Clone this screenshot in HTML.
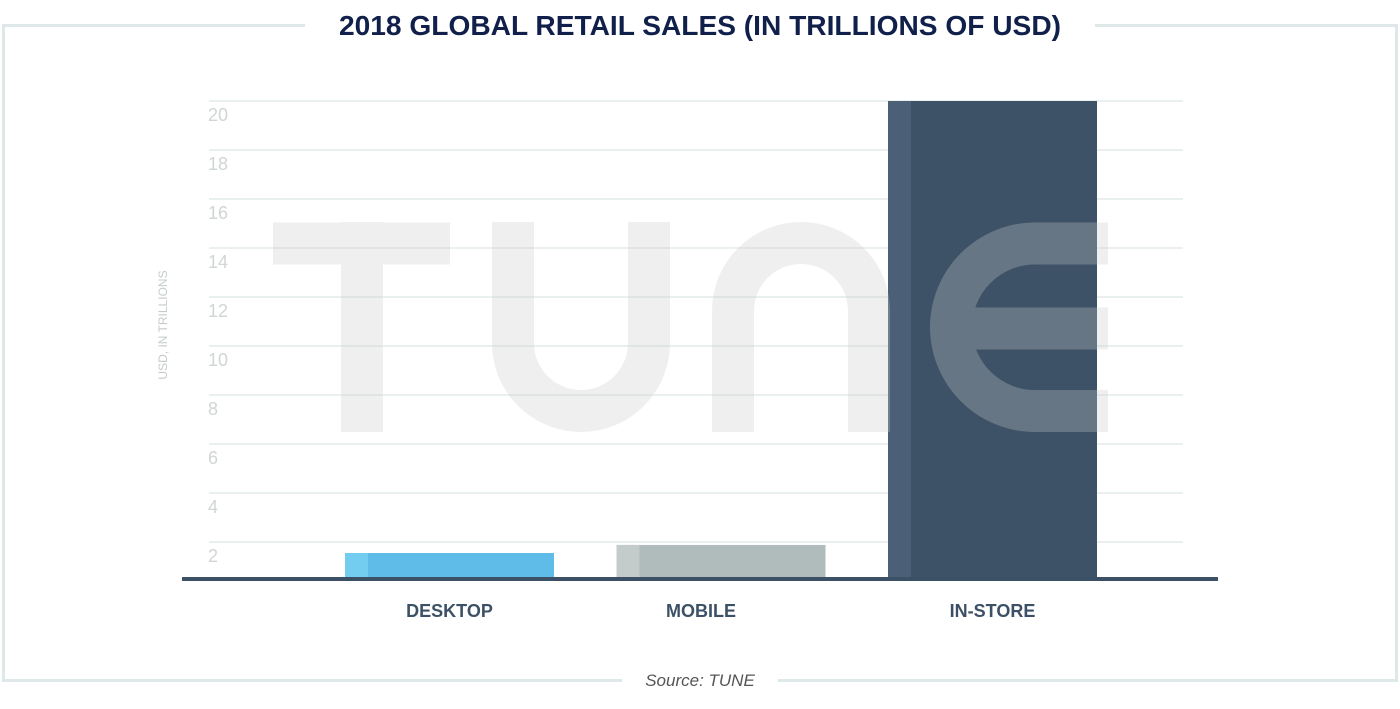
<!DOCTYPE html>
<html><head><meta charset="utf-8"><style>
body{margin:0;background:#fff;width:1400px;height:704px;overflow:hidden;font-family:"Liberation Sans",sans-serif}
</style></head><body>
<svg id="c" width="1400" height="704" xmlns="http://www.w3.org/2000/svg">
<g fill="none" stroke="#dfe8e8" stroke-width="3">
<path d="M305 25.5 H3.5 V680.5 H622 M778 680.5 H1396.5 V25.5 H1095"/>
</g>
<text x="700" y="35" text-anchor="middle" font-size="28" font-weight="bold" fill="#10204a" textLength="722" lengthAdjust="spacingAndGlyphs">2018 GLOBAL RETAIL SALES (IN TRILLIONS OF USD)</text>
<text x="700" y="686" text-anchor="middle" font-size="17" font-style="italic" fill="#555">Source: TUNE</text>
<g id="grid"></g>
<g id="bars"></g>
<g fill="none" stroke="rgba(202,202,202,0.3)" stroke-width="42" stroke-linejoin="round">
<path d="M273 243.5 H450 M362 222 V432"/>
<path d="M513 222 V343 A68 68 0 0 0 649 343 V222"/>
<path d="M733 432 V311 A68 68 0 0 1 869 311 V432"/>
<path d="M1108 243.5 H1035 A84 84 0 0 0 951 327 A84 84 0 0 0 1035 411 H1108 M951 328.5 H1108"/>
</g>
<rect x="182" y="577" width="1036" height="4" fill="#3d5166"/>
<text transform="translate(167,325) rotate(-90)" text-anchor="middle" font-size="12" fill="#c5cbcb">USD, IN TRILLIONS</text>
<g id="cats"></g>
</svg>
<script>
const categories=["DESKTOP","MOBILE","IN-STORE"];
const values=[1.55,1.88,20];
const ticks=[2,4,6,8,10,12,14,16,18,20];
const ns="http://www.w3.org/2000/svg";
const y=v=>591-v*24.5;
const x=i=>345+i*271.5;
const barW=209;
const colors=[["#73cdf0","#5fbbe8"],["#c3cbcb","#b0bbbb"],["#4b6076","#3d5266"]];
function mk(t,a,p){const e=document.createElementNS(ns,t);for(const k in a)e.setAttribute(k,a[k]);p.appendChild(e);return e;}
const g=document.getElementById('grid');
ticks.forEach(t=>{
 const l=mk('line',{x1:209,x2:1183,y1:y(t),y2:y(t),stroke:'#eaf0f0','stroke-width':2},g);
 
 
 const tx=mk('text',{x:208,y:y(t)+20,'font-size':18,fill:'#d0d5d5'},g);
 tx.textContent=t;
 
 
});
const b=document.getElementById('bars');
const cg=document.getElementById('cats');
values.forEach((v,i)=>{
 const top=y(v);
 const r=mk('rect',{x:x(i),y:top,width:barW,height:578-top,fill:colors[i][1]},b);
 
 
 const s=mk('rect',{x:x(i),y:top,width:23,height:578-top,fill:colors[i][0]},b);
 
 
 const t=mk('text',{x:x(i)+barW/2+(i===1?-20:0),y:617,'text-anchor':'middle','font-size':18,'font-weight':'bold',fill:'#3d5166'},cg);
 t.textContent=categories[i];
 
 
});
</script>
</body></html>
